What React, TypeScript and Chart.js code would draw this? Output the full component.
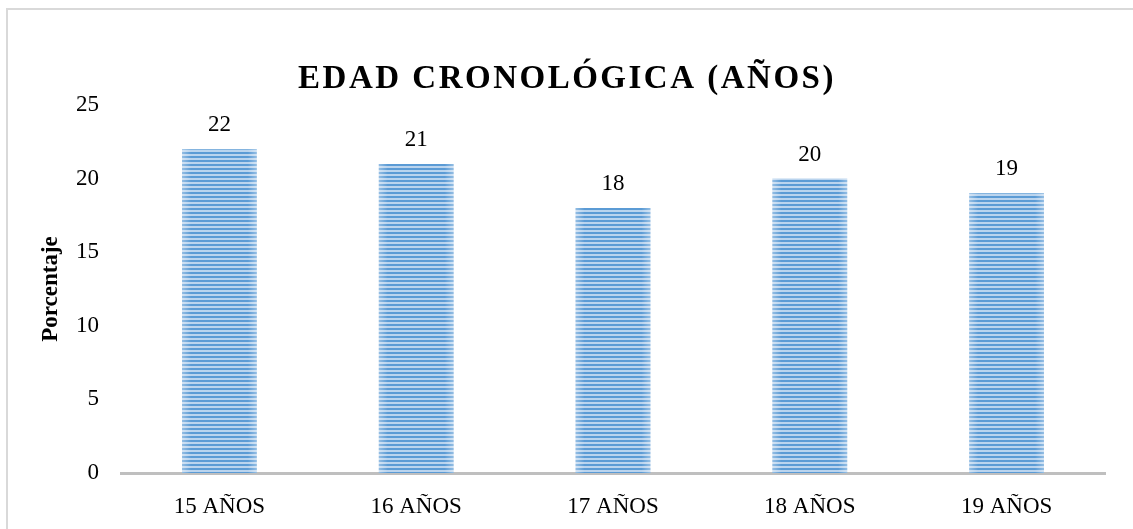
import React, { useEffect, useRef } from "react";
import { Chart, registerables } from "chart.js";

Chart.register(...registerables);

const categories = ["15 AÑOS", "16 AÑOS", "17 AÑOS", "18 AÑOS", "19 AÑOS"];
const values = [22, 21, 18, 20, 19];
const yTicks = [0, 5, 10, 15, 20, 25];
const titleText = "EDAD CRONOLÓGICA (AÑOS)";
const yTitle = "Porcentaje";

const SERIF = "'Liberation Serif', 'Times New Roman', serif";

function makePattern(ctx: CanvasRenderingContext2D) {
  const c = document.createElement("canvas");
  c.width = 4;
  c.height = 4;
  const p = c.getContext("2d")!;
  p.fillStyle = "#BAD4EE";
  p.fillRect(0, 0, 4, 4);
  p.fillStyle = "#5B9BD5";
  p.fillRect(0, 0, 4, 2);
  return ctx.createPattern(c, "repeat")!;
}

export default function App() {
  const ref = useRef<HTMLCanvasElement>(null);
  useEffect(() => {
    const canvas = ref.current!;
    const ctx = canvas.getContext("2d")!;
    const pattern = makePattern(ctx);

    const framePlugin = {
      id: "frame",
      beforeDraw(chart: any) {
        const c = chart.ctx;
        c.save();
        c.fillStyle = "#ffffff";
        c.fillRect(0, 0, chart.width, chart.height);
        c.strokeStyle = "#D9D9D9";
        c.lineWidth = 2;
        c.beginPath();
        c.moveTo(7, chart.height + 5);
        c.lineTo(7, 9);
        c.lineTo(chart.width + 5, 9);
        c.stroke();
        c.fillStyle = "#000000";
        c.font = `bold 33px ${SERIF}`;
        (c as any).letterSpacing = "2.5px";
        c.textAlign = "center";
        c.textBaseline = "alphabetic";
        c.fillText(titleText, 567, 88);
        c.restore();
      },
    };

    const labelPlugin = {
      id: "barLabels",
      afterDatasetsDraw(chart: any) {
        const c = chart.ctx;
        const meta = chart.getDatasetMeta(0);
        c.save();
        meta.data.forEach((bar: any, i: number) => {
          const w = bar.width;
          const g = c.createLinearGradient(bar.x - w / 2, 0, bar.x + w / 2, 0);
          g.addColorStop(0, "rgba(255,255,255,0.35)");
          g.addColorStop(0.12, "rgba(255,255,255,0)");
          g.addColorStop(0.88, "rgba(255,255,255,0)");
          g.addColorStop(1, "rgba(255,255,255,0.35)");
          c.fillStyle = g;
          c.fillRect(bar.x - w / 2, bar.y, w, bar.base - bar.y);
          c.fillStyle = "#000000";
          c.font = `23px ${SERIF}`;
          c.textAlign = "center";
          c.textBaseline = "middle";
          c.fillText(String(values[i]), bar.x, bar.y - 24);
        });
        c.restore();
      },
    };

    const chart = new Chart(canvas, {
      type: "bar",
      data: {
        labels: categories,
        datasets: [
          {
            data: values,
            backgroundColor: pattern,
            borderWidth: 0,
            categoryPercentage: 1,
            barPercentage: 0.38,
          },
        ],
      },
      options: {
        animation: false,
        responsive: false,
        devicePixelRatio: 1,
        layout: { padding: { left: 0, top: 105, right: 28, bottom: 0 } },
        plugins: {
          legend: { display: false },
          title: { display: false },
          tooltip: { enabled: false },
        },
        scales: {
          x: {
            grid: { display: false, drawTicks: false },
            border: { display: true, color: "#BFBFBF", width: 3 },
            ticks: {
              color: "#000000",
              font: { family: SERIF, size: 23 },
              padding: 20,
            },
            afterFit(scale: any) {
              scale.height = 56;
            },
          },
          y: {
            min: 0,
            max: 25,
            afterBuildTicks(scale: any) {
              scale.ticks = yTicks.map((v) => ({ value: v }));
            },
            grid: { display: false, drawTicks: false },
            border: { display: false },
            ticks: {
              color: "#000000",
              font: { family: SERIF, size: 23 },
              padding: 22,
            },
            title: {
              display: true,
              text: yTitle,
              color: "#000000",
              font: { family: SERIF, size: 23, weight: "bold" },
              padding: { top: 37, bottom: 0 },
            },
            afterFit(scale: any) {
              scale.width = 121;
            },
          },
        },
      },
      plugins: [framePlugin, labelPlugin],
    });
    return () => chart.destroy();
  }, []);

  return (
    <canvas
      ref={ref}
      width={1133}
      height={529}
      style={{ position: "fixed", left: 0, top: 0, width: 1133, height: 529, display: "block" }}
    />
  );
}
